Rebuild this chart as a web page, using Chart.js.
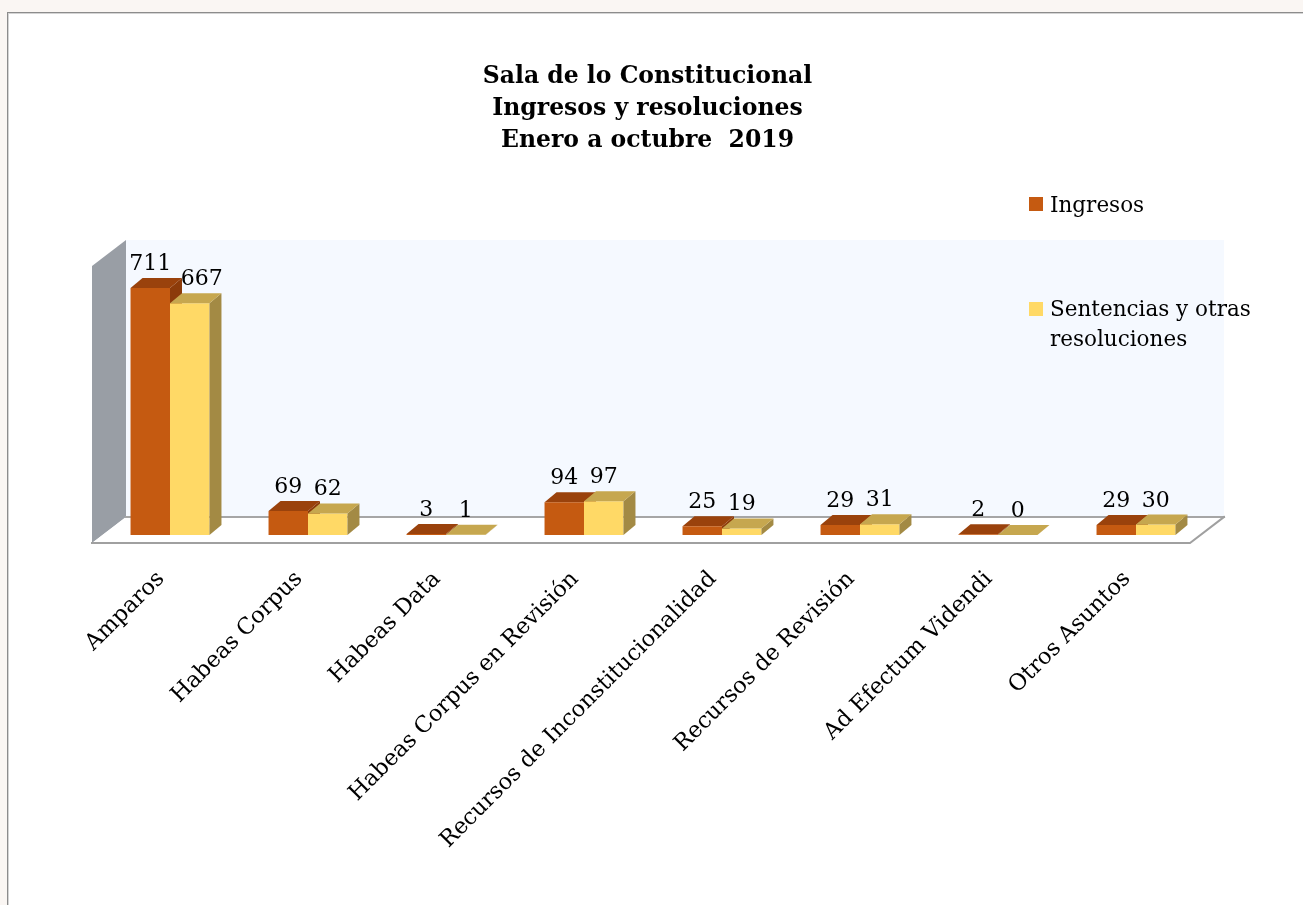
<!DOCTYPE html>
<html><head><meta charset="utf-8">
<script src="https://cdn.jsdelivr.net/npm/chart.js@4.4.0/dist/chart.umd.min.js"></script>
<style>
html,body{margin:0;padding:0;background:#faf6f3;width:1303px;height:905px;overflow:hidden;}
#panel{position:absolute;left:7px;top:12px;width:1310px;height:900px;background:#fff;border-top:1px solid #8c8c8c;border-left:1px solid #8c8c8c;box-shadow:inset 1px 1px 0 #d4d4d4;}
#c{position:absolute;left:0;top:0;}
#title{position:absolute;left:0;width:1295px;top:59px;text-align:center;font:bold 23.5px 'DejaVu Serif';line-height:32px;color:#000;}
.leg{position:absolute;left:1050px;font:21.5px 'DejaVu Serif';line-height:30px;color:#000;white-space:nowrap;}
.sw{position:absolute;left:1029px;width:14px;height:14px;}
</style></head>
<body>
<div id="panel"></div>
<canvas id="c" width="1303" height="905"></canvas>
<div id="title">Sala de lo Constitucional<br>Ingresos y resoluciones<br>Enero a octubre&nbsp; 2019</div>
<div class="sw" style="top:197px;background:#C55A11"></div>
<div class="leg" style="top:190px">Ingresos</div>
<div class="sw" style="top:302px;background:#FFD966"></div>
<div class="leg" style="top:294px">Sentencias y otras<br>resoluciones</div>
<script>
const categories = ['Amparos','Habeas Corpus','Habeas Data','Habeas Corpus en Revisión','Recursos de Inconstitucionalidad','Recursos de Revisión','Ad Efectum Videndi','Otros Asuntos'];
const ingresos = [711, 69, 3, 94, 25, 29, 2, 29];
const sentencias = [667, 62, 1, 97, 19, 31, 0, 30];
const seriesNames = ['Ingresos', 'Sentencias y otras resoluciones'];

const FONT = '"DejaVu Serif"';
const DX = 12, DY = -10;           // bar depth
const FDX = 34, FDY = -26;         // floor depth
const faceColors = [
  {top:'#9a420c', side:'#8c3b0a'},
  {top:'#c6a74f', side:'#a38a44'}
];

function poly(ctx, pts, fill, stroke, lw){
  ctx.beginPath();
  ctx.moveTo(pts[0][0], pts[0][1]);
  for (let i=1;i<pts.length;i++) ctx.lineTo(pts[i][0], pts[i][1]);
  ctx.closePath();
  if (fill){ ctx.fillStyle = fill; ctx.fill(); }
  if (stroke){ ctx.strokeStyle = stroke; ctx.lineWidth = lw||1; ctx.stroke(); }
}

function drawFaces(chart, di){
  const ctx = chart.ctx;
  const meta = chart.getDatasetMeta(di);
  const c = faceColors[di];
  meta.data.forEach(bar => {
    const l = bar.x - bar.width/2, r = bar.x + bar.width/2, t = bar.y, b = bar.base;
    poly(ctx, [[r,t],[r+DX,t+DY],[r+DX,b+DY],[r,b]], c.side);
    poly(ctx, [[l,t],[l+DX,t+DY],[r+DX,t+DY],[r,t]], c.top);
  });
}

const threeD = {
  id: 'threeD',
  beforeDatasetsDraw(chart){
    const ctx = chart.ctx, a = chart.chartArea;
    const base = chart.scales.y.getPixelForValue(0);
    const fl = a.left - 9, fr = a.right - 15, fy = base + 8;
    const wallTop = a.top - 17;
    ctx.save();
    ctx.fillStyle = '#f5f9ff';
    ctx.fillRect(fl + FDX, wallTop, fr - fl, fy + FDY - wallTop);
    poly(ctx, [[fl, wallTop - FDY],[fl+FDX, wallTop],[fl+FDX, fy+FDY],[fl, fy]], '#999ea5');
    poly(ctx, [[fl, fy],[fl+FDX, fy+FDY],[fr+FDX, fy+FDY],[fr, fy]], '#ffffff');
    ctx.lineCap = 'square';
    ctx.strokeStyle = '#a6a6a6'; ctx.lineWidth = 2;
    ctx.beginPath(); ctx.moveTo(fl+FDX, fy+FDY); ctx.lineTo(fr+FDX, fy+FDY); ctx.stroke();
    ctx.strokeStyle = '#a0a0a0';
    ctx.beginPath(); ctx.moveTo(fl, fy); ctx.lineTo(fr, fy); ctx.lineTo(fr+FDX, fy+FDY); ctx.stroke();
    drawFaces(chart, 0);
    ctx.restore();
  },
  afterDatasetsDraw(chart){
    const ctx = chart.ctx;
    ctx.save();
    drawFaces(chart, 1);
    ctx.font = '22px ' + FONT;
    ctx.fillStyle = '#000';
    ctx.textAlign = 'center';
    ctx.textBaseline = 'alphabetic';
    const m0 = chart.getDatasetMeta(0), m1 = chart.getDatasetMeta(1);
    [m0, m1].forEach((meta, di) => {
      const vals = chart.data.datasets[di].data;
      meta.data.forEach((bar, i) => {
        let x = bar.x, y = bar.y + DY - 8;
        if (di === 1) {
          const other = m0.data[i];
          if (other.y + DY < y) x += DX;
        }
        ctx.fillText(String(vals[i]), x, y);
      });
    });
    ctx.restore();
  }
};

new Chart(document.getElementById('c'), {
  type: 'bar',
  data: {
    labels: categories,
    datasets: [
      {label: seriesNames[0], data: ingresos, backgroundColor: '#C55A11', borderWidth: 0},
      {label: seriesNames[1], data: sentencias, backgroundColor: '#FFD966', borderWidth: 0}
    ]
  },
  options: {
    responsive: false,
    animation: false,
    events: [],
    categoryPercentage: 0.572,
    barPercentage: 1,
    layout: {padding: {left: 101, right: 98, top: 257, bottom: 0}},
    plugins: {legend: {display: false}, title: {display: false}, tooltip: {enabled: false}},
    scales: {
      x: {
        grid: {display: false, drawTicks: false},
        border: {display: false},
        ticks: {autoSkip: false, maxRotation: 45, minRotation: 45, padding: 31, labelOffset: -9, color: '#000', font: {family: FONT, size: 22.5}},
        afterFit: s => { s.height = 370; }
      },
      y: {display: false, min: 0, max: 800}
    }
  },
  plugins: [threeD]
});
</script>
</body></html>
